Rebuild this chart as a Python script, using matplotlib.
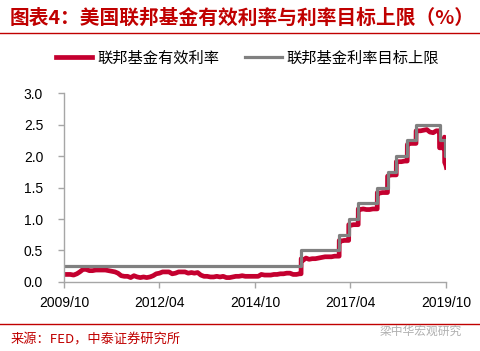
import matplotlib
matplotlib.use("Agg")
import matplotlib.pyplot as plt
import matplotlib.dates as mdates
from matplotlib.lines import Line2D
import pandas as pd

# 联邦基金有效利率: value on the 1st of each month, 2009/10 .. 2019/10
effr_monthly = [
    0.12, 0.12, 0.12,
    0.11, 0.13, 0.16, 0.20, 0.20, 0.18, 0.18, 0.19, 0.19, 0.19, 0.19, 0.18,
    0.17, 0.16, 0.14, 0.10, 0.09, 0.09, 0.07, 0.10, 0.08, 0.07, 0.08, 0.07,
    0.08, 0.10, 0.13, 0.14, 0.16, 0.16, 0.16, 0.13, 0.14, 0.16, 0.16, 0.16,
    0.14, 0.15, 0.14, 0.15, 0.11, 0.09, 0.09, 0.08, 0.08, 0.09, 0.08, 0.09,
    0.07, 0.07, 0.08, 0.09, 0.09, 0.10, 0.09, 0.09, 0.09, 0.09, 0.09, 0.12,
    0.11, 0.11, 0.11, 0.12, 0.12, 0.13, 0.13, 0.14, 0.14, 0.12, 0.12, 0.13,
    0.34, 0.38, 0.36, 0.37, 0.37, 0.38, 0.39, 0.40, 0.40, 0.40, 0.41, 0.41,
    0.65, 0.66, 0.66, 0.90, 0.91, 0.91, 1.15, 1.16, 1.15, 1.15, 1.16, 1.16,
    1.41, 1.42, 1.42, 1.69, 1.70, 1.70, 1.91, 1.91, 1.92, 2.19, 2.20, 2.20,
    2.40, 2.40, 2.41, 2.42, 2.38, 2.37, 2.40, 2.13, 2.13, 1.85,
]
# extra daily points around the moves
effr_extra_dates = [
    "2015-12-16", "2015-12-17", "2016-12-14", "2016-12-15",
    "2017-03-15", "2017-03-16", "2017-06-14", "2017-06-15",
    "2017-12-13", "2017-12-14", "2018-03-21", "2018-03-22",
    "2018-06-13", "2018-06-14", "2018-09-26", "2018-09-27",
    "2018-12-19", "2018-12-20", "2019-07-31",
    "2019-09-16", "2019-09-17", "2019-09-19", "2019-10-05",
]
effr_extra_values = [
    0.13, 0.37, 0.41, 0.66,
    0.66, 0.91, 0.91, 1.16,
    1.16, 1.42, 1.42, 1.68,
    1.70, 1.91, 1.92, 2.18,
    2.20, 2.40, 2.40,
    2.25, 2.30, 1.90, 1.82,
]

# 联邦基金利率目标上限
upper_dates = [
    "2009-10-01", "2015-12-17", "2016-12-15", "2017-03-16", "2017-06-15",
    "2017-12-14", "2018-03-22", "2018-06-14", "2018-09-27", "2018-12-20",
    "2019-08-01", "2019-09-19", "2019-10-05",
]
upper_values = [0.25, 0.50, 0.75, 1.00, 1.25, 1.50, 1.75, 2.00, 2.25, 2.50, 2.25, 2.00, 2.00]

tick_dates = ["2009-10-01", "2012-04-01", "2014-10-01", "2017-04-01", "2019-10-01"]

RED = "#c4002f"
GRAY = "#808080"
TITLE_RED = "#c00000"

plt.rcParams["font.family"] = ["Noto Sans CJK SC", "DejaVu Sans"]

effr = pd.concat([
    pd.Series(effr_monthly, index=pd.date_range("2009-10-01", periods=len(effr_monthly), freq="MS")),
    pd.Series(effr_extra_values, index=pd.to_datetime(effr_extra_dates)),
]).sort_index()

fig = plt.figure(figsize=(4.8, 3.51), dpi=100)
ax = fig.add_axes([0.1333, 0.1966, 0.7957, 0.5384])

ax.plot(effr.index, effr.values, color=RED, linewidth=3.4, label="联邦基金有效利率")
ax.plot(pd.to_datetime(upper_dates), upper_values, color=GRAY, linewidth=2.3,
        drawstyle="steps-post", label="联邦基金利率目标上限")

ax.set_xlim(pd.Timestamp("2009-10-01"), pd.Timestamp("2019-10-01"))
ax.set_ylim(0, 3.0)
ax.set_yticks([0.0, 0.5, 1.0, 1.5, 2.0, 2.5, 3.0])
ax.yaxis.set_major_formatter(plt.FormatStrFormatter("%.1f"))
ax.set_xticks(pd.to_datetime(tick_dates))
ax.xaxis.set_major_formatter(mdates.DateFormatter("%Y/%m"))

for s in ["top", "right"]:
    ax.spines[s].set_visible(False)
for s in ["left", "bottom"]:
    ax.spines[s].set_color("#a6a6a6")
    ax.spines[s].set_linewidth(1.0)
ax.tick_params(axis="both", colors="#a6a6a6", length=4, width=1.0, labelcolor="black")
ax.tick_params(axis="y", pad=11)
ax.tick_params(axis="x", pad=6)
for lab in ax.get_xticklabels() + ax.get_yticklabels():
    lab.set_fontfamily("Liberation Sans")
    lab.set_fontsize(10)

fig.legend(loc="center", bbox_to_anchor=(0.515, 0.835), ncol=2, frameon=False,
           fontsize=11, handlelength=2.4, columnspacing=1.7, handletextpad=0.3)

fig.text(0.021, 0.947, "图表4：美国联邦基金有效利率与利率目标上限（%）", color=TITLE_RED,
         fontsize=14.2, fontweight="bold", ha="left", va="center")
fig.add_artist(Line2D([0, 1], [0.906, 0.906], transform=fig.transFigure, color=TITLE_RED, linewidth=1.0))
fig.add_artist(Line2D([0, 1], [0.077, 0.077], transform=fig.transFigure, color=TITLE_RED, linewidth=1.0))
fig.text(0.021, 0.031, "来源：FED，中泰证券研究所", color=TITLE_RED, fontsize=9.5, ha="left", va="center")
fig.text(0.79, 0.057, "梁中华宏观研究", color="#b0b0b0", fontsize=8.5, ha="left", va="center")

fig.savefig("out.png", dpi=100)
